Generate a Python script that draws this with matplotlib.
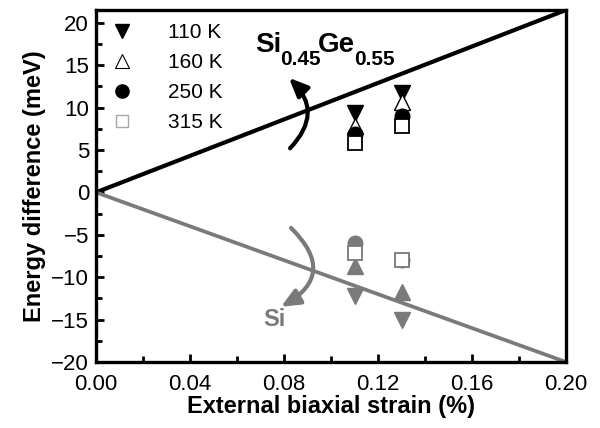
import matplotlib
matplotlib.use("Agg")
import matplotlib.pyplot as plt
from matplotlib.lines import Line2D
from matplotlib.ticker import MultipleLocator, FormatStrFormatter

plt.rcParams['font.family'] = ['Liberation Sans', 'DejaVu Sans']

# ---- data ----
strain = [0.11, 0.13]
sige_110 = [9.4, 11.7]
sige_160 = [7.8, 10.6]
sige_250 = [6.9, 9.0]
sige_315 = [5.8, 7.8]
si_110 = [-12.2, -15.1]
si_160 = [-8.7, -11.8]
si_250 = [-6.0, -8.0]
si_315 = [-7.1, -8.0]

line_x = [0.0, 0.2]
sige_line = [0.0, 21.5]
si_line = [0.0, -20.0]

temps = ['110 K', '160 K', '250 K', '315 K']
xticks = [0.00, 0.04, 0.08, 0.12, 0.16, 0.20]
yticks = [-20, -15, -10, -5, 0, 5, 10, 15, 20]

BLACK = '#000000'
GRAY = '#7a7a7a'
LGRAY = '#a8a8a8'

fig = plt.figure(figsize=(6.0, 4.28), dpi=100)
ax = fig.add_axes([96/600, 66/428, 470/600, 352/428])

ax.plot(line_x, sige_line, color=BLACK, lw=3.0, solid_capstyle='butt', zorder=2)
ax.plot(line_x, si_line, color=GRAY, lw=2.7, solid_capstyle='butt', zorder=2)

# upper (SiGe) markers
ax.plot(strain, sige_110, 'v', ms=12, mfc=BLACK, mec=BLACK, ls='none', zorder=3)
ax.plot(strain, sige_160, '^', ms=12, mfc='white', mec=BLACK, mew=1.0, ls='none', zorder=3)
ax.plot(strain, sige_250, 'o', ms=10.5, mfc=BLACK, mec=BLACK, ls='none', zorder=3)
ax.plot(strain, sige_315, 's', ms=10, mfc='white', mec=BLACK, mew=1.3, ls='none', zorder=3)

# lower (Si) markers
ax.plot(strain, si_110, 'v', ms=12, mfc=GRAY, mec=GRAY, ls='none', zorder=3)
ax.plot(strain, si_160, '^', ms=12, mfc=GRAY, mec=GRAY, ls='none', zorder=3)
ax.plot(strain, si_250, 'o', ms=10.5, mfc=GRAY, mec=GRAY, ls='none', zorder=3)
ax.plot(strain, si_315, 's', ms=10, mfc='white', mec=GRAY, mew=1.3, ls='none', zorder=3)

ax.set_xlim(0, 0.2)
ax.set_ylim(-20, 21.5)
ax.set_xticks(xticks)
ax.set_yticks(yticks)
ax.xaxis.set_minor_locator(MultipleLocator(0.02))
ax.yaxis.set_minor_locator(MultipleLocator(2.5))
ax.xaxis.set_major_formatter(FormatStrFormatter('%.2f'))
ax.tick_params(which='both', direction='in', width=2, top=False, right=False,
               labelsize=16)
ax.tick_params(axis='x', which='major', pad=9)
ax.tick_params(axis='y', which='major', pad=5)
ax.tick_params(which='major', length=6)
ax.tick_params(which='minor', length=4)
for s in ax.spines.values():
    s.set_linewidth(2.4)

ax.set_xlabel('External biaxial strain (%)', fontsize=17, fontweight='bold', labelpad=0)
ax.set_ylabel('Energy difference (meV)', fontsize=17, fontweight='bold', labelpad=4)

# legend
handles = [
    Line2D([], [], marker='v', ls='none', ms=9.5, mfc=BLACK, mec=BLACK),
    Line2D([], [], marker='^', ls='none', ms=9.5, mfc='white', mec=BLACK, mew=0.8),
    Line2D([], [], marker='o', ls='none', ms=9.5, mfc=BLACK, mec=BLACK),
    Line2D([], [], marker='s', ls='none', ms=8, mfc='white', mec=LGRAY, mew=1.0),
]
ax.legend(handles, temps, loc='upper left', bbox_to_anchor=(0.033, 0.962),
          frameon=False, fontsize=15, handlelength=1.0, handletextpad=1.7,
          labelspacing=0.52, borderpad=0, borderaxespad=0, numpoints=1)

# labels
ax.text(0.0677, 16.5, 'Si', fontsize=20, fontweight='bold', ha='left', va='baseline')
ax.text(0.0783, 15.0, '0.45', fontsize=15, fontweight='bold', ha='left', va='baseline')
ax.text(0.0945, 16.5, 'Ge', fontsize=20, fontweight='bold', ha='left', va='baseline')
ax.text(0.1100, 15.0, '0.55', fontsize=15, fontweight='bold', ha='left', va='baseline')
ax.text(0.0712, -15.8, 'Si', fontsize=17, fontweight='bold', color=GRAY,
        ha='left', va='baseline')

# curved arrows
ax.annotate('', xy=(0.0821, 13.5), xytext=(0.0826, 5.2),
            arrowprops=dict(arrowstyle='-|>,head_length=0.8,head_width=0.35',
                            connectionstyle='arc3,rad=0.49', color=BLACK, lw=3,
                            shrinkA=0, shrinkB=0, mutation_scale=14))
ax.annotate('', xy=(0.0787, -13.5), xytext=(0.0830, -4.2),
            arrowprops=dict(arrowstyle='-|>,head_length=0.8,head_width=0.35',
                            connectionstyle='arc3,rad=-0.66', color=GRAY, lw=3,
                            shrinkA=0, shrinkB=0, mutation_scale=14))

fig.savefig('out.png', dpi=100)
